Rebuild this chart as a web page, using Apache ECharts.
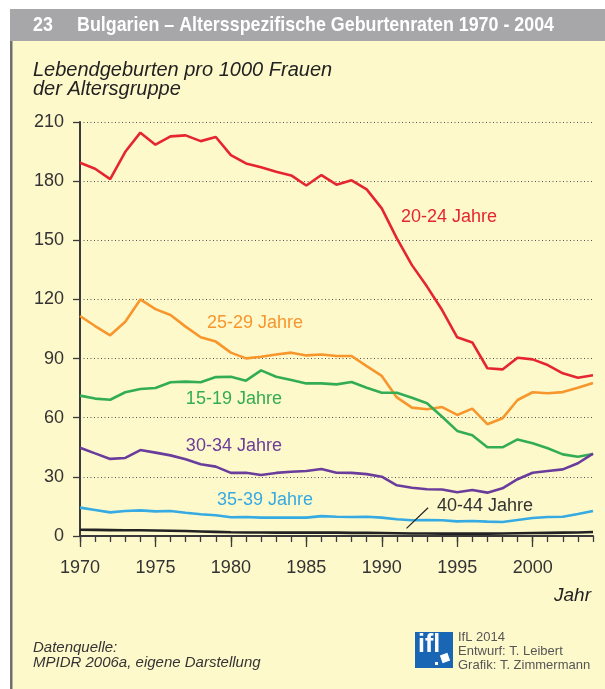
<!DOCTYPE html>
<html>
<head>
<meta charset="utf-8">
<script src="https://cdn.jsdelivr.net/npm/echarts@6/dist/echarts.min.js"></script>
<style>
html, body { margin: 0; padding: 0; background: #fff; }
#main { width: 605px; height: 689px; }
</style>
</head>
<body>
<div id="main"></div>
<script>
// Jahre
var years = [1970, 1971, 1972, 1973, 1974, 1975, 1976, 1977, 1978, 1979,
	1980, 1981, 1982, 1983, 1984, 1985, 1986, 1987, 1988, 1989,
	1990, 1991, 1992, 1993, 1994, 1995, 1996, 1997, 1998, 1999,
	2000, 2001, 2002, 2003, 2004];
var majorYears = [1970, 1975, 1980, 1985, 1990, 1995, 2000];

// Lebendgeburten pro 1000 Frauen je Altersgruppe
var age1519 = [71.2, 69.7, 69.1, 72.9, 74.6, 75.1, 78, 78.3, 78, 80.6,
	80.8, 78.8, 84, 80.8, 79.1, 77.4, 77.4, 76.9, 78.1, 75.2,
	72.7, 72.7, 70.1, 67.3, 60.5, 53.3, 51.1, 45, 45, 49,
	47, 44.5, 41.4, 40.2, 41.6];
var age2024 = [189.3, 186.3, 181, 194.9, 204.6, 198.5, 202.7, 203.2, 200.3, 202.4,
	193.2, 189, 187, 184.8, 182.9, 177.8, 183.1, 178.2, 180.4, 175.8,
	166.2, 151, 137.4, 126.5, 114.6, 100.8, 98.2, 85.1, 84.5, 90.4,
	89.6, 86.7, 82.5, 80.3, 81.5];
var age2529 = [111.6, 106.5, 101.8, 108.7, 120, 115.1, 112.1, 106.2, 100.8, 98.6,
	93, 90.1, 90.9, 92.1, 93, 91.6, 92.1, 91.3, 91.3, 86.2,
	81.2, 70.3, 65.1, 64.3, 65.4, 61.4, 64.6, 56.7, 59.7, 69,
	72.9, 72.4, 73, 75.2, 77.6];
var age3034 = [44.8, 41.9, 39.1, 39.6, 43.6, 42.3, 40.9, 38.9, 36.4, 35.2,
	32, 32.1, 30.9, 32, 32.6, 33, 34, 32.1, 32, 31.4,
	30.1, 25.7, 24.5, 23.7, 23.6, 22.2, 23.3, 22, 24.2, 28.8,
	32.1, 33, 33.8, 36.9, 41.8];
var age3539 = [14.4, 13.2, 12, 12.7, 13, 12.5, 12.7, 11.8, 11, 10.5,
	9.5, 9.6, 9.3, 9.3, 9.3, 9.3, 10.1, 9.8, 9.6, 9.8,
	9.3, 8.5, 8, 8.1, 8, 7.4, 7.6, 7.3, 7.1, 8.1,
	9.1, 9.6, 9.8, 11.2, 12.7];
var age4044 = [3.2, 3.1, 3.0, 2.9, 2.9, 2.8, 2.7, 2.5, 2.3, 2.1,
	1.9, 1.8, 1.8, 1.7, 1.7, 1.7, 1.7, 1.7, 1.6, 1.6,
	1.5, 1.4, 1.3, 1.3, 1.2, 1.2, 1.2, 1.2, 1.3, 1.4,
	1.5, 1.6, 1.7, 1.8, 2.0];

var yTicks = [0, 30, 60, 90, 120, 150, 180, 210];

var dom = document.getElementById('main');
var myChart = echarts.init(dom);

function pairs(arr) {
	var out = [];
	for (var i = 0; i < years.length; i++) {
		out.push([years[i], arr[i]]);
	}
	return out;
}

// Beschriftung der Linien (Datenkoordinaten)
function tag(text, x, y, color) {
	return {
		symbol: 'rect',
		symbolSize: 1,
		itemStyle: { color: 'rgba(0,0,0,0)' },
		coord: [x, y],
		label: {
			show: true,
			position: 'inside',
			formatter: text,
			color: color,
			fontSize: 18,
			fontFamily: 'Liberation Sans'
		}
	};
}

function line(name, arr, color, tagPos) {
	return {
		name: name,
		type: 'line',
		xAxisIndex: 0,
		data: pairs(arr),
		symbol: 'none',
		lineStyle: { color: color, width: 2.6 },
		itemStyle: { color: color },
		markPoint: {
			silent: true,
			data: [tag(name, tagPos[0], tagPos[1], color)]
		}
	};
}

// Titelbreite messen, damit die schmale Schrift passt
var titleText = 'Bulgarien \u2013 Altersspezifische Geburtenraten 1970 - 2004';
var cnv = document.createElement('canvas').getContext('2d');
cnv.font = 'bold 21px "Liberation Sans"';
var titleScale = 477 / cnv.measureText(titleText).width;

var fontReg = 'Liberation Sans';

var series = [
	line('20-24 Jahre', age2024, '#e52630', [1994.45, 161.8]),
	line('25-29 Jahre', age2529, '#f7962d', [1981.6, 108]),
	line('15-19 Jahre', age1519, '#33ad55', [1980.2, 69.5]),
	line('30-34 Jahre', age3034, '#6a3d9c', [1980.2, 45.6]),
	line('35-39 Jahre', age3539, '#36aae2', [1982.26, 18.3]),
	line('40-44 Jahre', age4044, '#222222', [1996.84, 15.2])
];
series[5].markPoint.data[0].label.color = '#333';
series[5].markLine = {
	silent: true,
	symbol: ['none', 'none'],
	label: { show: false },
	lineStyle: { color: '#222', width: 1.2, type: 'solid' },
	data: [[{ coord: [1991.64, 3.9] }, { coord: [1993.07, 14.3] }]]
};

var option = {
	animation: false,
	backgroundColor: '#ffffff',
	textStyle: { fontFamily: fontReg },
	grid: {
		left: 80,
		right: 12,
		top: 122,
		bottom: 153,
		containLabel: false
	},
	xAxis: [{
		type: 'value',
		min: 1970,
		max: 2004,
		interval: 1,
		axisLine: { lineStyle: { color: '#3a3a3a', width: 2 } },
		axisTick: { length: 6, lineStyle: { color: '#3a3a3a', width: 1.3 } },
		axisLabel: { show: false },
		splitLine: { show: false }
	}, {
		type: 'value',
		min: 1970,
		max: 2004,
		position: 'bottom',
		axisLine: { show: false },
		axisTick: { customValues: majorYears, length: 11, lineStyle: { color: '#3a3a3a', width: 1.3 } },
		axisLabel: {
			customValues: majorYears,
			formatter: function(v) { return String(v); },
			fontSize: 18,
			color: '#333',
			margin: 23,
			fontFamily: fontReg
		},
		splitLine: { show: false }
	}],
	yAxis: {
		type: 'value',
		min: 0,
		max: 210,
		interval: 30,
		axisLine: { show: true, lineStyle: { color: '#3a3a3a', width: 2 } },
		axisTick: { show: true, length: 7, lineStyle: { color: '#3a3a3a', width: 1.3 } },
		axisLabel: {
			customValues: yTicks,
			fontSize: 18,
			color: '#333',
			margin: 16,
			fontFamily: fontReg
		},
		splitLine: { show: true, lineStyle: { color: '#555', width: 1, type: [1, 2.5] } }
	},
	graphic: [
		// Rahmen und Hintergrund
		{ type: 'rect', z: -100, shape: { x: 10, y: 9, width: 595, height: 680 }, style: { fill: '#fef9cb' } },
		{ type: 'rect', z: -99, shape: { x: 10, y: 9, width: 595, height: 32 }, style: { fill: '#a7a7aa' } },
		{ type: 'rect', z: -99, shape: { x: 10, y: 41, width: 2.5, height: 648 }, style: { fill: '#6f6f70' } },
		// Titel
		{ type: 'text', x: 33, y: 25, scaleX: titleScale, style: { text: '23', fill: '#fff', font: 'bold 21px "Liberation Sans"', verticalAlign: 'middle' } },
		{ type: 'text', x: 77, y: 25, scaleX: titleScale, style: { text: titleText, fill: '#fff', font: 'bold 21px "Liberation Sans"', verticalAlign: 'middle' } },
		// Achsentitel
		{ type: 'text', x: 33, y: 61, style: { text: 'Lebendgeburten pro 1000 Frauen\nder Altersgruppe', fill: '#222', font: 'italic 20px "Liberation Sans"', lineHeight: 19 } },
		{ type: 'text', x: 591, y: 596, style: { text: 'Jahr', fill: '#222', font: 'italic 19px "Liberation Sans"', align: 'right', verticalAlign: 'middle' } },
		// Quelle
		{ type: 'text', x: 33, y: 640, style: { text: 'Datenquelle:\nMPIDR 2006a, eigene Darstellung', fill: '#333', font: 'italic 15px "Liberation Sans"', lineHeight: 15.5 } },
		// Logo
		{ type: 'rect', shape: { x: 415, y: 632, width: 38, height: 36 }, style: { fill: '#1866b4' } },
		{ type: 'text', x: 418, y: 633, style: { text: 'ifl', fill: '#fff', font: 'bold 25px "Liberation Sans"' } },
		{ type: 'rect', x: 445, y: 658, rotation: 0.35, shape: { x: -4, y: -4, width: 8, height: 8 }, style: { fill: '#fff' } },
		{ type: 'rect', shape: { x: 435, y: 662, width: 3, height: 3 }, style: { fill: '#fff' } },
		{ type: 'text', x: 458, y: 630, style: { text: 'IfL 2014\nEntwurf: T. Leibert\nGrafik: T. Zimmermann', fill: '#555', font: '13px "Liberation Sans"', lineHeight: 14.3 } }
	],
	series: series
};

if (option && typeof option === 'object') {
	myChart.setOption(option, true);
}
</script>
</body>
</html>
